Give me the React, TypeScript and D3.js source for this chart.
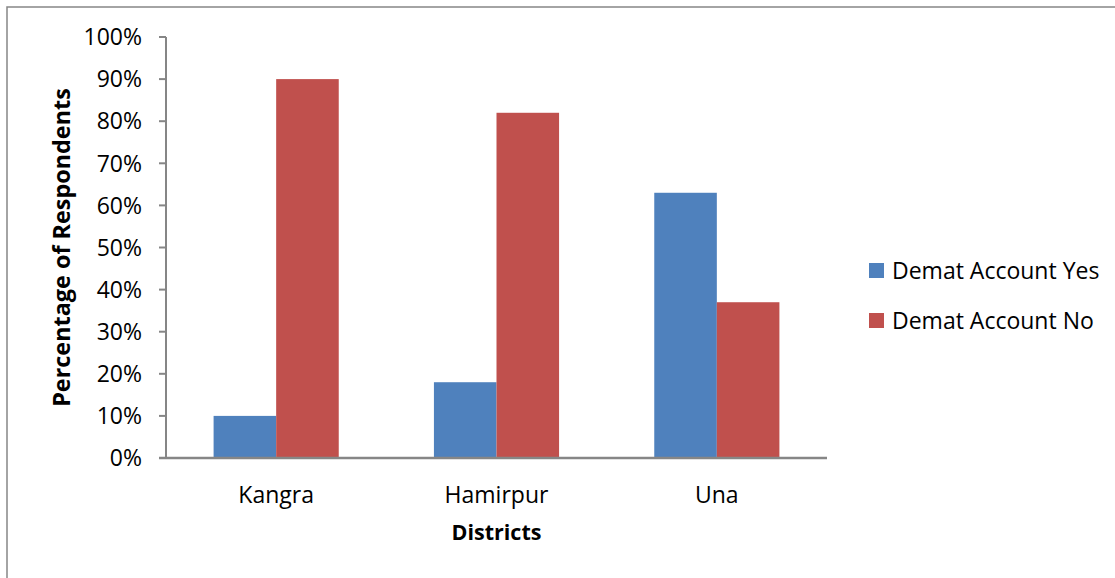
import React from "react";
import * as d3 from "d3";

// District-wise share of respondents with / without a Demat account
const districts = ["Kangra", "Hamirpur", "Una"];
const seriesNames = ["Demat Account Yes", "Demat Account No"];
const dematYes = [0.10, 0.18, 0.63];
const dematNo = [0.90, 0.82, 0.37];
const yTicks = [0, 0.1, 0.2, 0.3, 0.4, 0.5, 0.6, 0.7, 0.8, 0.9, 1.0];
const seriesColors = ["#4F81BD", "#C0504D"];

const W = 1115;
const H = 578;
const plot = { left: 166, right: 827, top: 37, bottom: 458 };
const FONT = "'Open Sans', 'Liberation Sans', sans-serif";
const axisColor = "#868686";

export default function App() {
  const x0 = d3
    .scaleBand<string>()
    .domain(districts)
    .range([plot.left, plot.right])
    .paddingInner(0.432)
    .paddingOuter(0.216);
  const x1 = d3
    .scaleBand<string>()
    .domain(seriesNames)
    .range([0, x0.bandwidth()])
    .padding(0);
  const y = d3.scaleLinear().domain([0, 1]).range([plot.bottom, plot.top]);
  const fmt = d3.format(".0%");
  const values = [dematYes, dematNo];

  return (
    <svg
      width={W}
      height={H}
      style={{ position: "absolute", left: 0, top: 0, background: "#fff" }}
    >
      <rect x={0} y={0} width={W} height={H} fill="#fff" />
      {/* chart frame */}
      <rect
        x={7}
        y={7}
        width={W + 20}
        height={H + 20}
        fill="none"
        stroke={axisColor}
        strokeWidth={1.5}
      />

      {/* bars */}
      {districts.map((d, i) => (
        <g key={d} transform={`translate(${x0(d)},0)`}>
          {seriesNames.map((s, j) => (
            <rect
              key={s}
              x={x1(s)}
              y={y(values[j][i])}
              width={x1.bandwidth()}
              height={plot.bottom - y(values[j][i])}
              fill={seriesColors[j]}
            />
          ))}
        </g>
      ))}

      {/* y axis */}
      <line
        x1={plot.left}
        x2={plot.left}
        y1={plot.top}
        y2={plot.bottom}
        stroke={axisColor}
        strokeWidth={2}
      />
      {yTicks.map((t) => (
        <g key={t}>
          <line
            x1={plot.left - 7}
            x2={plot.left}
            y1={y(t)}
            y2={y(t)}
            stroke={axisColor}
            strokeWidth={2}
          />
          <text
            x={142}
            y={y(t)}
            dy="0.36em"
            textAnchor="end"
            fontFamily={FONT}
            fontSize={23}
            fill="#000"
          >
            {fmt(t)}
          </text>
        </g>
      ))}

      {/* x axis */}
      <line
        x1={plot.left - 7}
        x2={plot.right}
        y1={plot.bottom}
        y2={plot.bottom}
        stroke={axisColor}
        strokeWidth={2.5}
      />
      {districts.map((d) => (
        <text
          key={d}
          x={(x0(d) as number) + x0.bandwidth() / 2}
          y={503}
          textAnchor="middle"
          fontFamily={FONT}
          fontSize={23}
          fill="#000"
        >
          {d}
        </text>
      ))}

      {/* axis titles */}
      <text
        x={(plot.left + plot.right) / 2}
        y={540}
        textAnchor="middle"
        fontFamily={FONT}
        fontWeight="bold"
        fontSize={21.5}
        fill="#000"
      >
        Districts
      </text>
      <text
        transform={`translate(70,${(plot.top + plot.bottom) / 2}) rotate(-90)`}
        textAnchor="middle"
        fontFamily={FONT}
        fontWeight="bold"
        fontSize={23.4}
        fill="#000"
      >
        Percentage of Respondents
      </text>

      {/* legend */}
      {seriesNames.map((s, j) => (
        <g key={s} transform={`translate(869,${263 + j * 50})`}>
          <rect width={15} height={15} fill={seriesColors[j]} />
          <text
            x={23}
            y={7.5}
            dy="0.36em"
            fontFamily={FONT}
            fontSize={23}
            fill="#000"
          >
            {s}
          </text>
        </g>
      ))}
    </svg>
  );
}
